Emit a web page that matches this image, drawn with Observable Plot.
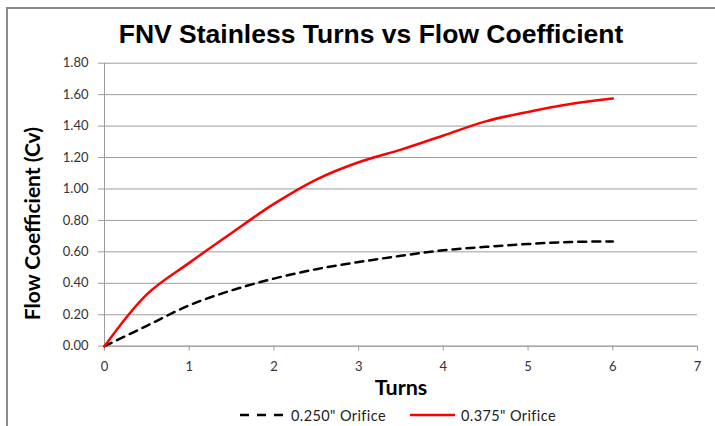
<!DOCTYPE html>
<html>
<head>
<meta charset="utf-8">
<script src="https://cdn.jsdelivr.net/npm/d3@7"></script>
<script src="https://cdn.jsdelivr.net/npm/@observablehq/plot@0.6"></script>
<style>
  html, body { margin: 0; padding: 0; background: #fff; }
  #wrap { position: relative; width: 715px; height: 426px; overflow: hidden; }
  #frame { position: absolute; left: 6px; top: 7px; width: 760px; height: 460px;
           border-left: 2px solid #8a8a8a; border-top: 2px solid #8a8a8a; }
  #title { position: absolute; left: 0; width: 742px; top: 19px; text-align: center;
           font-family: "Liberation Sans", Arial, sans-serif; font-weight: bold; font-size: 26.5px; color: #000; }
  #chart { position: absolute; left: 0; top: 0; }
  #legend { position: absolute; top: 405px; left: 0; width: 715px; height: 20px;
            font-family: Lato, "Open Sans", sans-serif; font-size: 14.5px; letter-spacing: 0.4px; color: #222; }
  .item { position: absolute; top: 0; display: flex; align-items: center; height: 20px; }
  .item svg { margin-right: 6px; }
</style>
</head>
<body>
<div id="wrap">
  <div id="frame"></div>
  <div id="chart"></div>
  <div id="title">FNV Stainless Turns vs Flow Coefficient</div>
  <div id="legend"></div>
</div>
<script>
const turns = [0, 0.5, 1, 1.5, 2, 2.5, 3, 3.5, 4, 4.5, 5, 5.5, 6];
const orifice250 = [0, 0.13, 0.26, 0.355, 0.43, 0.49, 0.535, 0.575, 0.61, 0.632, 0.65, 0.663, 0.666];
const orifice375 = [0, 0.33, 0.53, 0.72, 0.905, 1.06, 1.17, 1.25, 1.34, 1.43, 1.49, 1.54, 1.575];
const seriesNames = ["0.250\" Orifice", "0.375\" Orifice"];
const yTicks = [0, 0.2, 0.4, 0.6, 0.8, 1.0, 1.2, 1.4, 1.6, 1.8];
const xTicks = [0, 1, 2, 3, 4, 5, 6, 7];

const data250 = turns.map((t, i) => ({t, v: orifice250[i]}));
const data375 = turns.map((t, i) => ({t, v: orifice375[i]}));

const gridColor = "#9c9c9c";
const labelFont = "Lato, 'Open Sans', sans-serif";

const chart = Plot.plot({
  width: 715,
  height: 400,
  marginLeft: 104,
  marginRight: 18,
  marginTop: 62.7,
  marginBottom: 54.3,
  style: { fontFamily: labelFont, fontSize: "13px", color: "#333", background: "transparent" },
  x: { domain: [0, 7] },
  y: { domain: [0, 1.8] },
  marks: [
    Plot.gridY(yTicks, { stroke: gridColor, strokeOpacity: 1, strokeWidth: 1 }),
    Plot.ruleX([0], { stroke: gridColor, strokeWidth: 1 }),
    Plot.ruleY([0], { stroke: gridColor, strokeWidth: 1 }),
    Plot.axisY(yTicks, { tickFormat: d3.format(".2f"), tickSize: 6, tickPadding: 10, stroke: gridColor,
      fill: "#333", fontSize: 13, label: null }),
    Plot.axisX(xTicks, { tickFormat: d3.format("d"), tickSize: 5, tickPadding: 11, stroke: gridColor,
      fill: "#333", fontSize: 13, label: null }),
    Plot.text(["Turns"], { frameAnchor: "bottom", lineAnchor: "middle", dy: 42, fontWeight: "bold", fontSize: 21.5, fill: "#000", fontFamily: labelFont }),
    Plot.text(["Flow Coefficient (Cv)"], { x: 0, y: 0.78, dx: -71, rotate: -90, fontWeight: "bold", fontSize: 21, fill: "#000", fontFamily: labelFont }),
    Plot.line(data250, { x: "t", y: "v", stroke: "#000", strokeWidth: 2.5, strokeDasharray: "8,6", curve: "catmull-rom" }),
    Plot.line(data375, { x: "t", y: "v", stroke: "#ff0000", strokeWidth: 2.5, curve: "catmull-rom" })
  ]
});
document.getElementById("chart").appendChild(chart);

// Legend
const legend = document.getElementById("legend");
const items = [
  { name: seriesNames[0], color: "#000", dash: "9,8", left: 240 },
  { name: seriesNames[1], color: "#ff0000", dash: null, left: 410 }
];
for (const it of items) {
  const div = document.createElement("div");
  div.className = "item";
  div.style.left = it.left + "px";
  const svg = d3.create("svg").attr("width", 45).attr("height", 10);
  svg.append("line").attr("x1", 0).attr("x2", 45).attr("y1", 5).attr("y2", 5)
    .attr("stroke", it.color).attr("stroke-width", 2.5)
    .attr("stroke-dasharray", it.dash);
  div.appendChild(svg.node());
  const span = document.createElement("span");
  span.textContent = it.name;
  div.appendChild(span);
  legend.appendChild(div);
}
</script>
</body>
</html>
